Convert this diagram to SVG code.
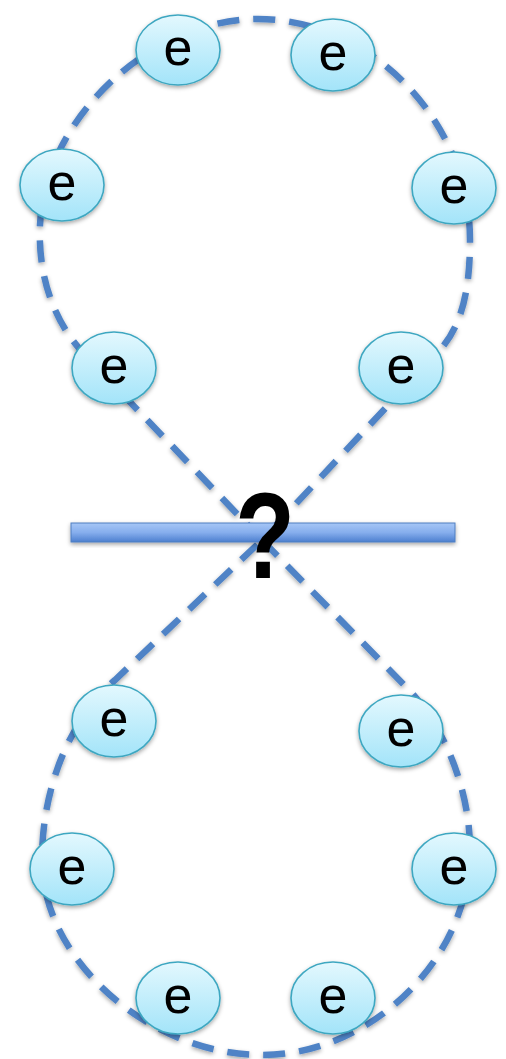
<svg xmlns="http://www.w3.org/2000/svg" width="506" height="1059" viewBox="0 0 506 1059">
<defs>
<linearGradient id="ng" x1="0" y1="0" x2="0" y2="1">
<stop offset="0" stop-color="#e3f8fe"/>
<stop offset="1" stop-color="#a3e4f9"/>
</linearGradient>
<linearGradient id="bg" x1="0" y1="0" x2="0" y2="1">
<stop offset="0" stop-color="#a6c6f6"/>
<stop offset="0.5" stop-color="#86aeed"/>
<stop offset="1" stop-color="#4c7fcf"/>
</linearGradient>
<filter id="sh" x="-20%" y="-20%" width="140%" height="150%">
<feDropShadow dx="0" dy="2" stdDeviation="2" flood-color="#000" flood-opacity="0.35"/>
</filter>
</defs>
<style>
.loop{fill:none;stroke:#4f83c6;stroke-width:6.5;stroke-dasharray:22 14;filter:url(#sh)}
.node ellipse{fill:url(#ng);stroke:#3ea7c1;stroke-width:1.6;filter:url(#sh)}
.node text{font-family:"Liberation Sans",Arial,sans-serif;font-size:52px;fill:#000;text-anchor:middle}
.bar{fill:url(#bg);stroke:#4f7fc0;stroke-width:1;filter:url(#sh)}
.q{font-family:"Liberation Sans",Arial,sans-serif;font-weight:bold;font-size:122px;fill:#000;text-anchor:middle}
</style>
<g id="connectors">
<path class="loop" d="M262,540 L85,355 C50,318 38,270 40,225 C44,120 150,19 258,19 C370,19 470,120 470,240 C470,290 462,325 440,350 Z"/>
<path class="loop" d="M262,540 L412,693 C445,730 470,790 470,850 C470,960 370,1055 262,1055 C150,1055 42,960 42,860 C42,780 75,715 115,680 Z"/>
</g>
<g id="barrier">
<rect class="bar" x="71" y="523" width="384" height="19"/>
<text class="q" transform="translate(265,578) scale(0.8,1)" x="0" y="0">?</text>
</g>
<g id="n1" class="node"><ellipse cx="178" cy="50" rx="42" ry="35"/><text x="178" y="65">e</text></g>
<g id="n2" class="node"><ellipse cx="333" cy="55" rx="42" ry="36"/><text x="333" y="70">e</text></g>
<g id="n3" class="node"><ellipse cx="62" cy="185" rx="42" ry="36"/><text x="62" y="200">e</text></g>
<g id="n4" class="node"><ellipse cx="454" cy="188" rx="42" ry="36"/><text x="454" y="203">e</text></g>
<g id="n5" class="node"><ellipse cx="114" cy="368" rx="42" ry="36"/><text x="114" y="383">e</text></g>
<g id="n6" class="node"><ellipse cx="401" cy="368" rx="42" ry="36"/><text x="401" y="383">e</text></g>
<g id="n7" class="node"><ellipse cx="114" cy="721" rx="42" ry="36"/><text x="114" y="736">e</text></g>
<g id="n8" class="node"><ellipse cx="401" cy="731" rx="42" ry="36"/><text x="401" y="746">e</text></g>
<g id="n9" class="node"><ellipse cx="72" cy="869" rx="42" ry="36"/><text x="72" y="884">e</text></g>
<g id="n10" class="node"><ellipse cx="454" cy="869" rx="42" ry="36"/><text x="454" y="884">e</text></g>
<g id="n11" class="node"><ellipse cx="178" cy="998" rx="42" ry="36"/><text x="178" y="1013">e</text></g>
<g id="n12" class="node"><ellipse cx="333" cy="998" rx="42" ry="36"/><text x="333" y="1013">e</text></g>
</svg>
